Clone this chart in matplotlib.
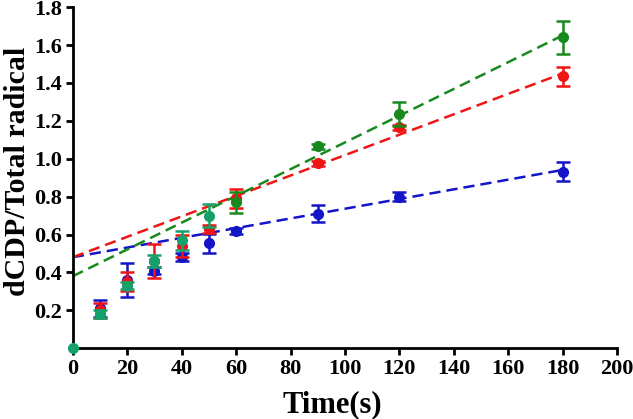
import matplotlib.pyplot as plt
import numpy as np

plt.rcParams['font.family'] = ['Liberation Serif', 'DejaVu Serif']
plt.rcParams['font.weight'] = 'bold'

# data
t = [10, 20, 30, 40, 50, 60, 90, 120, 180]
blue = [0.21, 0.36, 0.41, 0.48, 0.555, 0.62, 0.71, 0.80, 0.93]
blue_err = [0.045, 0.09, 0.02, 0.02, 0.05, 0.015, 0.045, 0.025, 0.05]
red = [0.20, 0.35, 0.46, 0.54, 0.63, 0.79, 0.975, 1.165, 1.435]
red_err = [0.04, 0.05, 0.09, 0.06, 0.02, 0.05, 0.015, 0.015, 0.05]
t_green = [0, 10, 20, 30, 40, 50, 60, 90, 120, 180]
green = [0.0, 0.18, 0.33, 0.46, 0.57, 0.70, 0.77, 1.065, 1.235, 1.64]
green_err = [0.0, 0.02, 0.02, 0.03, 0.05, 0.06, 0.055, 0.015, 0.065, 0.085]

# linear fits (intercept, slope) as drawn
fit_blue = (0.48, 0.00256)
fit_red = (0.48, 0.00539)
fit_green = (0.38, 0.00706)
fit_x = [0, 180]

c_blue = '#1414c8'
c_red = '#f01414'
c_green = '#178a1e'
c_teal = '#16a06a'

fig = plt.figure(figsize=(6.33, 4.19), dpi=100)
ax = fig.add_axes([0.115, 0.169, 0.86, 0.814])

for (b, s), c in [(fit_blue, c_blue), (fit_red, c_red), (fit_green, c_green)]:
    xx = np.array(fit_x)
    ax.plot(xx, b + s * xx, '--', color=c, lw=1.8, dashes=(4.5, 2.4), zorder=2)

ax.errorbar(t, blue, yerr=blue_err, fmt='o', color=c_blue, ms=7,
            elinewidth=1.8, capsize=5, capthick=1.8, zorder=3)
ax.errorbar(t, red, yerr=red_err, fmt='o', color=c_red, ms=7,
            elinewidth=1.8, capsize=5, capthick=1.8, zorder=4)
for i in range(len(t_green)):
    c = c_teal if t_green[i] <= 50 else c_green
    ax.errorbar(t_green[i], green[i], yerr=green_err[i] if green_err[i] > 0 else None,
                fmt='o', color=c, ms=7, elinewidth=1.8, capsize=5,
                capthick=1.8, zorder=5, clip_on=False)

ax.set_xlim(0, 200)
ax.set_ylim(0, 1.8)
ax.set_xticks(range(0, 201, 20))
ax.set_yticks([0.2, 0.4, 0.6, 0.8, 1.0, 1.2, 1.4, 1.6, 1.8])
ax.set_yticklabels(['0.2', '0.4', '0.6', '0.8', '1.0', '1.2', '1.4', '1.6', '1.8'])
ax.spines['top'].set_visible(False)
ax.spines['right'].set_visible(False)
ax.spines['left'].set_linewidth(2)
ax.spines['bottom'].set_linewidth(2)
ax.tick_params(width=2, length=5, labelsize=16, pad=3)
for lab in ax.get_xticklabels() + ax.get_yticklabels():
    lab.set_fontweight('bold')

ax.set_xlabel('Time(s)', fontsize=22, fontweight='bold')
ax.set_ylabel('dCDP/Total radical', fontsize=21.5, fontweight='bold')
ax.xaxis.set_label_coords(0.476, -0.167)
ax.yaxis.set_label_coords(-0.101, 0.517)
ax.xaxis.label.set_va('center')
ax.yaxis.label.set_va('center')

fig.savefig('out.png', dpi=100)
